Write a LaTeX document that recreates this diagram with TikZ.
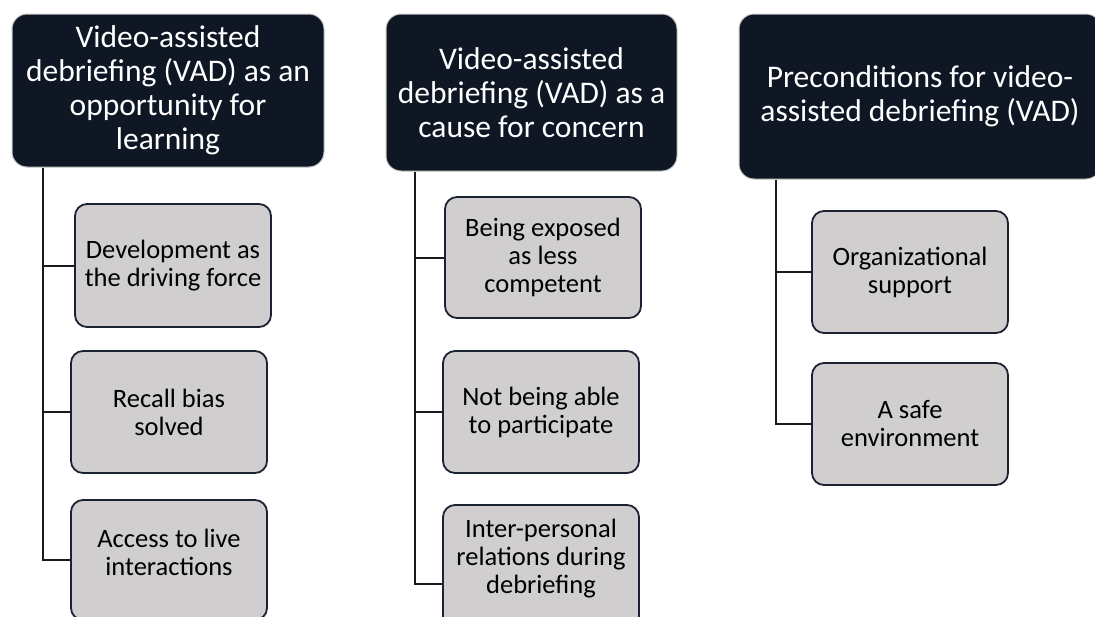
\documentclass[tikz,border=0pt]{standalone}
\usepackage{fontspec}
\setmainfont{Carlito}
\definecolor{headfill}{HTML}{0F1724}
\definecolor{headline}{HTML}{C8C8C8}
\definecolor{childfill}{HTML}{D0CECE}
\definecolor{childline}{HTML}{1B2333}
\definecolor{connline}{HTML}{1A1A1A}
\tikzset{
  headbox/.style={draw=headline, line width=1pt, fill=headfill, text=white,
    rounded corners=15pt, align=center, inner sep=0pt,
    font=\fontsize{31.5}{34}\selectfont},
  childbox/.style={draw=childline, line width=1.8pt, fill=childfill, text=black,
    rounded corners=12pt, align=center, inner sep=0pt,
    minimum width=196pt, font=\fontsize{26.5}{28}\selectfont},
  conn/.style={draw=connline, line width=2pt}
}
\begin{document}
\begin{tikzpicture}[x=1pt,y=-1pt]
\useasboundingbox (0,0) rectangle (1095,616);
% headers
\node[headbox, minimum width=312pt, minimum height=153pt] (h1) at (168,90.5)
  {Video-assisted\\debriefing (VAD) as an\\opportunity for\\learning};
\node[headbox, minimum width=291pt, minimum height=157pt] (h2) at (531.5,92.5)
  {Video-assisted\\debriefing (VAD) as a\\cause for concern};
\node[headbox, minimum width=362pt, minimum height=165pt] (h3) at (920,96.5)
  {Preconditions for video-\\assisted debriefing (VAD)};
% column 1 children
\node[childbox, minimum height=123pt] (c11) at (173,265.5) {Development as\\the driving force};
\node[childbox, minimum height=122pt] (c12) at (169,412) {Recall bias\\solved};
\node[childbox, minimum height=120pt] (c13) at (169,560) {Access to live\\interactions\\[-12pt]\mbox{}};
% column 2 children
\node[childbox, minimum height=121pt] (c21) at (543,257.5) {Being exposed\\as less\\competent};
\node[childbox, minimum height=122pt] (c22) at (541,412) {Not being able\\to participate};
\node[childbox, minimum height=158pt] (c23) at (541,584) {Inter-personal\\relations during\\debriefing\\\mbox{}\\\mbox{}};
% column 3 children
\node[childbox, minimum height=122pt] (c31) at (910,272) {Organizational\\support};
\node[childbox, minimum height=122pt] (c32) at (910,424) {A safe\\environment};
% connectors
\draw[conn] ([xshift=31pt]h1.south west) |- (c11.west);
\draw[conn] ([xshift=31pt]h1.south west) |- (c12.west);
\draw[conn] ([xshift=31pt]h1.south west) |- (c13.west);
\draw[conn] ([xshift=29pt]h2.south west) |- (c21.west);
\draw[conn] ([xshift=29pt]h2.south west) |- (c22.west);
\draw[conn] ([xshift=29pt]h2.south west) |- (c23.west);
\draw[conn] ([xshift=37pt]h3.south west) |- (c31.west);
\draw[conn] ([xshift=37pt]h3.south west) |- (c32.west);
\end{tikzpicture}
\end{document}
